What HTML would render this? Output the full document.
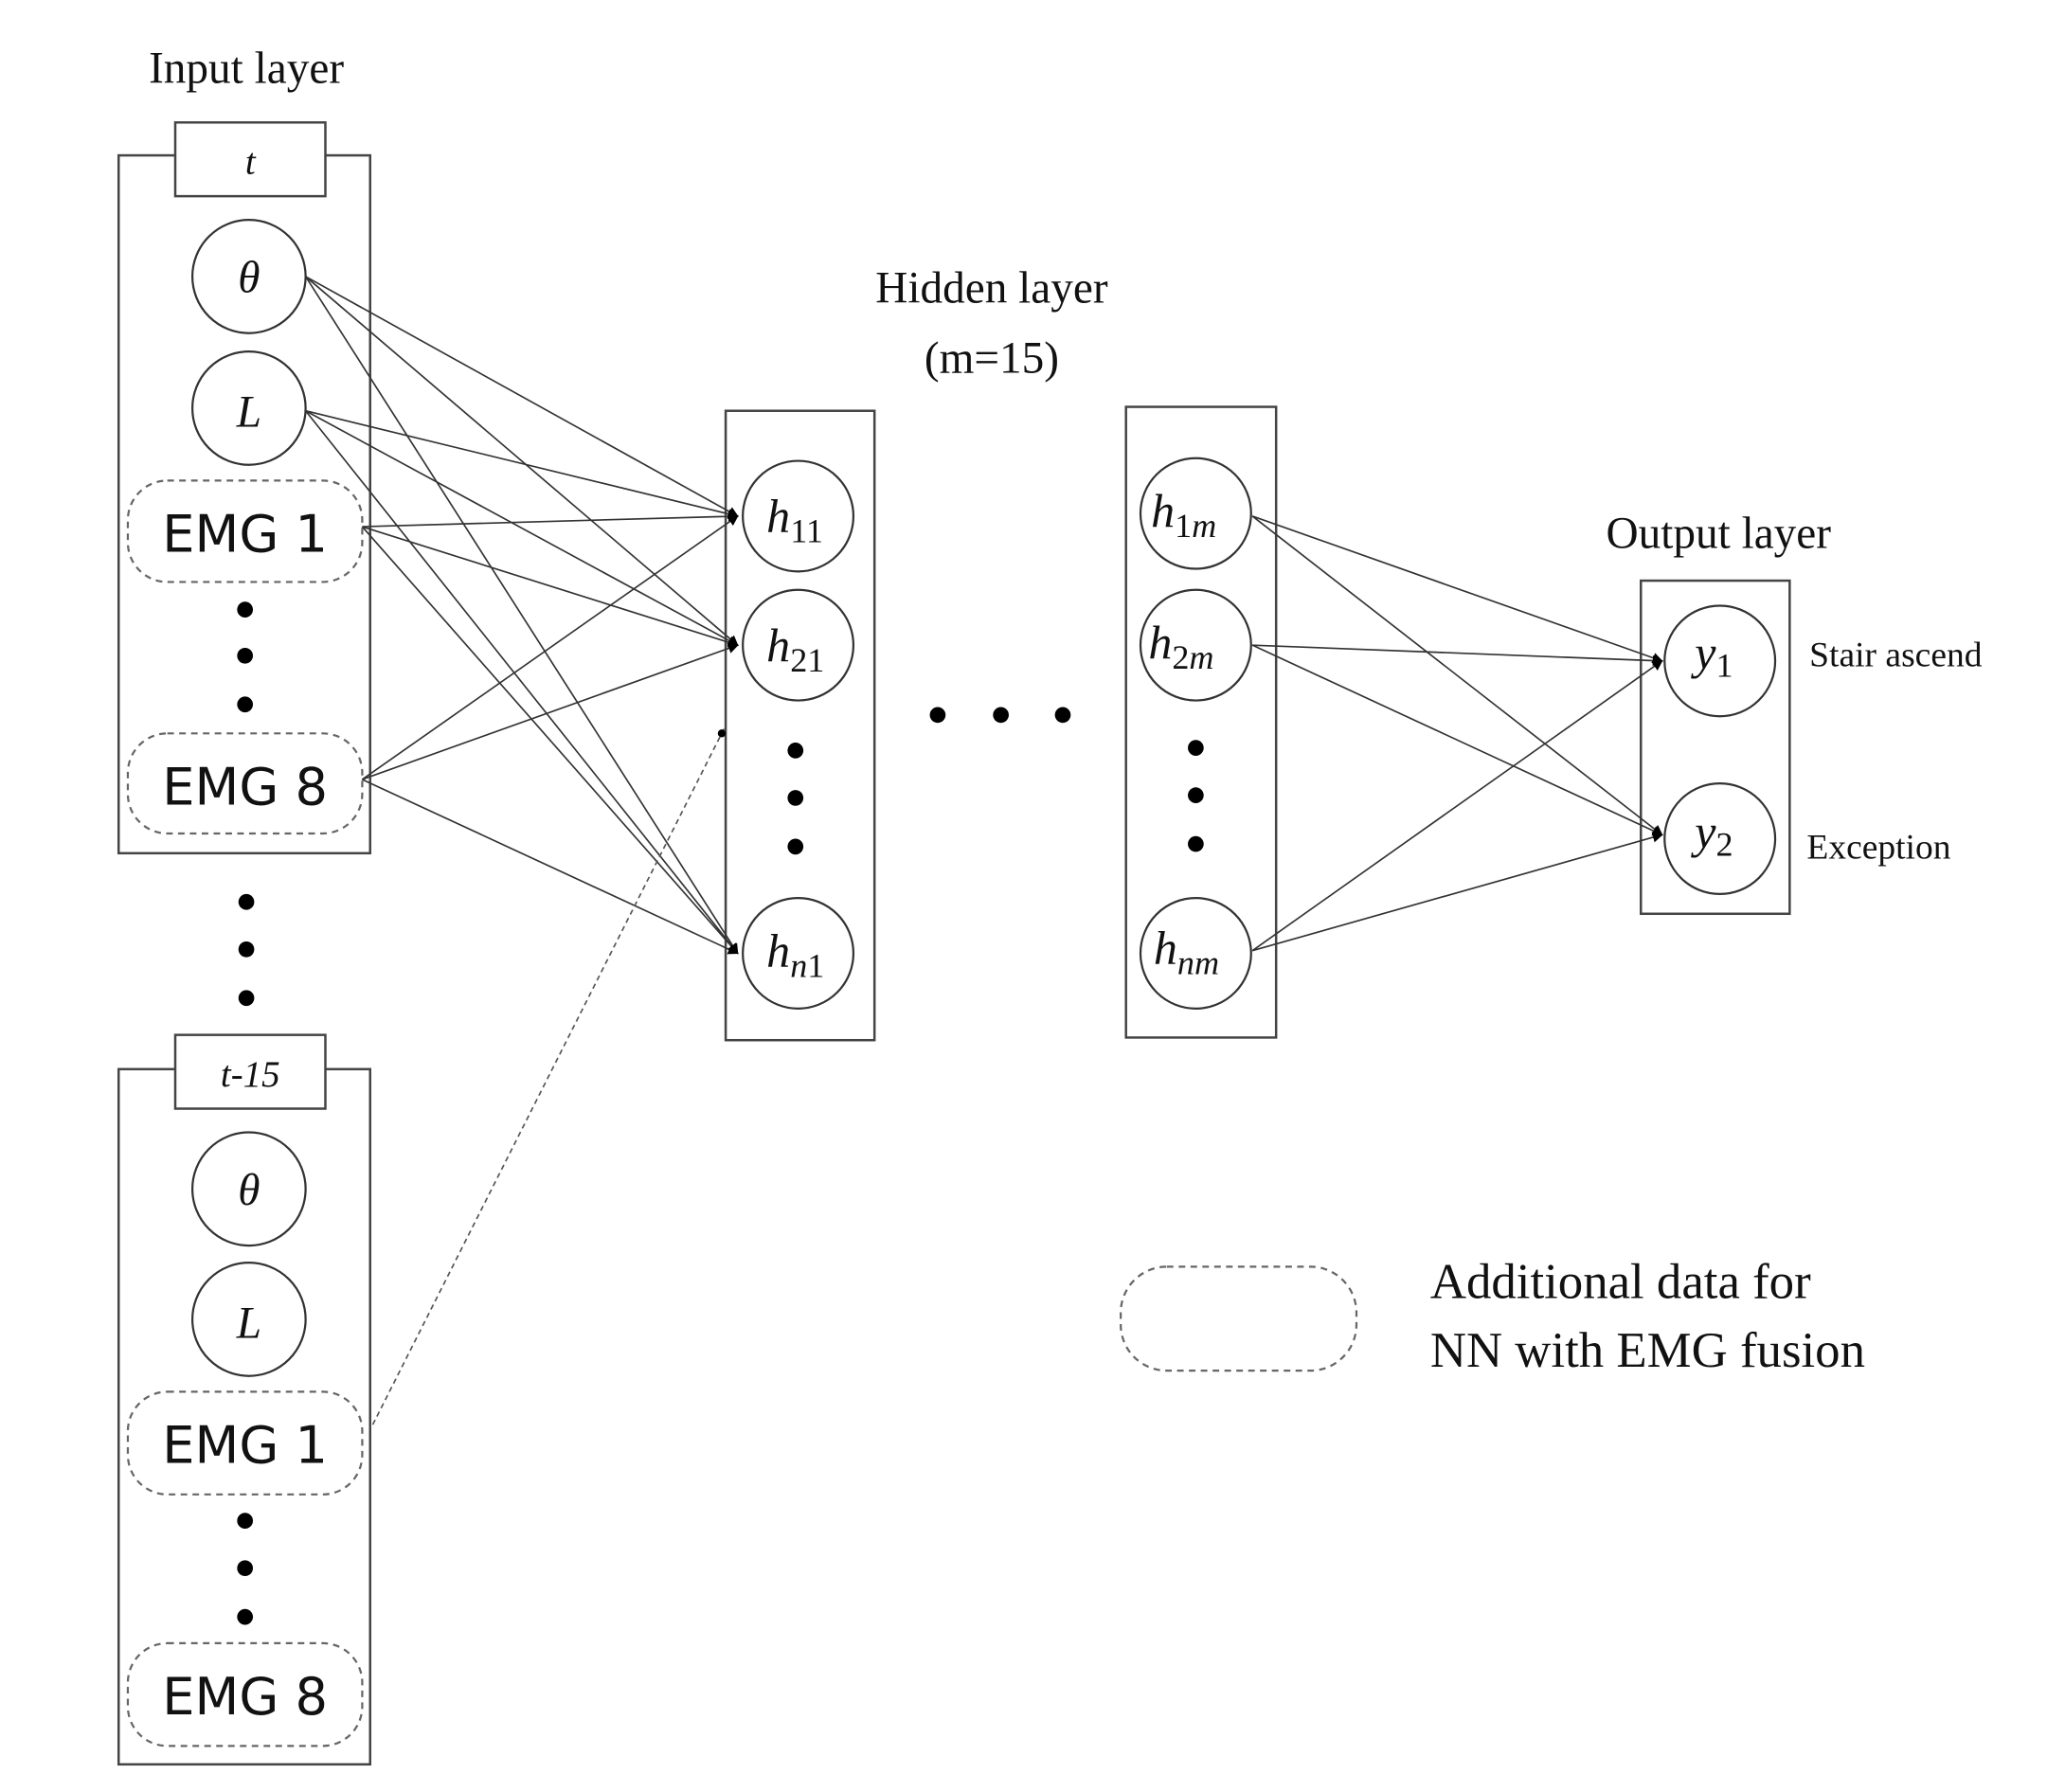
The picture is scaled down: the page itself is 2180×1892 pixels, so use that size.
<!DOCTYPE html>
<html><head><meta charset="utf-8"><style>
html,body{margin:0;padding:0;background:#fff;width:2180px;height:1892px;overflow:hidden}
svg{display:block}
.s{font-family:"Liberation Serif",serif;fill:#111}
.sa{font-family:"DejaVu Sans","Liberation Sans",sans-serif;fill:#111}
.m{font-family:"Liberation Serif",serif;font-style:italic;fill:#111}
</style></head><body>
<svg width="2180" height="1892" viewBox="0 0 1568 1361" xmlns="http://www.w3.org/2000/svg">
<defs><marker id="a" markerWidth="8" markerHeight="8" refX="7" refY="4" orient="auto" markerUnits="userSpaceOnUse"><path d="M0,0 L8,4 L0,8 Z" fill="#000"/></marker></defs>
<g stroke="#444" stroke-width="1.8" fill="none">
<rect x="90" y="118" width="191" height="530"/>
<rect x="90" y="812" width="191" height="528"/>
<rect x="551" y="312" width="113" height="478"/>
<rect x="855" y="309" width="114" height="479"/>
<rect x="1246" y="441" width="113" height="253"/>
</g>
<g stroke="#444" stroke-width="1.8" fill="#fff">
<rect x="133" y="93" width="114" height="56"/>
<rect x="133" y="786" width="114" height="56"/>
</g>
<g stroke="#666" stroke-width="1.6" fill="none" stroke-dasharray="5,4">
<rect x="97" y="365" width="178" height="77" rx="30"/>
<rect x="97" y="557" width="178" height="76" rx="30"/>
<rect x="97" y="1057" width="178" height="78" rx="30"/>
<rect x="97" y="1248" width="178" height="78" rx="30"/>
<rect x="851" y="962" width="179" height="79" rx="35"/>
</g>
<g stroke="#333" stroke-width="1.2" marker-end="url(#a)">
<line x1="232" y1="210" x2="560" y2="392"/><line x1="232" y1="210" x2="560" y2="490"/><line x1="232" y1="210" x2="560" y2="724"/>
<line x1="232" y1="312" x2="560" y2="392"/><line x1="232" y1="312" x2="560" y2="490"/><line x1="232" y1="312" x2="560" y2="724"/>
<line x1="275" y1="400" x2="560" y2="392"/><line x1="275" y1="400" x2="560" y2="490"/><line x1="275" y1="400" x2="560" y2="724"/>
<line x1="275" y1="592" x2="560" y2="392"/><line x1="275" y1="592" x2="560" y2="490"/><line x1="275" y1="592" x2="560" y2="724"/>
<line x1="951" y1="392" x2="1262" y2="502"/><line x1="951" y1="392" x2="1262" y2="634"/>
<line x1="951" y1="490" x2="1262" y2="502"/><line x1="951" y1="490" x2="1262" y2="634"/>
<line x1="951" y1="722" x2="1262" y2="502"/><line x1="951" y1="722" x2="1262" y2="634"/>
</g>
<line x1="283" y1="1082" x2="550" y2="553" stroke="#555" stroke-width="1.2" stroke-dasharray="4,3"/>
<circle cx="548" cy="557" r="3" fill="#000"/>
<g stroke="#333" stroke-width="1.6" fill="#fff">
<circle cx="189" cy="210" r="43"/><circle cx="189" cy="310" r="43"/>
<circle cx="189" cy="903" r="43"/><circle cx="189" cy="1002" r="43"/>
<circle cx="606" cy="392" r="42"/><circle cx="606" cy="490" r="42"/><circle cx="606" cy="724" r="42"/>
<circle cx="908" cy="390" r="42"/><circle cx="908" cy="490" r="42"/><circle cx="908" cy="724" r="42"/>
<circle cx="1306" cy="502" r="42"/><circle cx="1306" cy="637" r="42"/>
</g>
<g fill="#000">
<circle cx="186" cy="463" r="6"/><circle cx="186" cy="498" r="6"/><circle cx="186" cy="535" r="6"/>
<circle cx="187" cy="685" r="6"/><circle cx="187" cy="721" r="6"/><circle cx="187" cy="758" r="6"/>
<circle cx="186" cy="1155" r="6"/><circle cx="186" cy="1191" r="6"/><circle cx="186" cy="1228" r="6"/>
<circle cx="604" cy="570" r="6"/><circle cx="604" cy="606" r="6"/><circle cx="604" cy="643" r="6"/>
<circle cx="908" cy="568" r="6"/><circle cx="908" cy="604" r="6"/><circle cx="908" cy="641" r="6"/>
<circle cx="712" cy="543" r="6"/><circle cx="760" cy="543" r="6"/><circle cx="807" cy="543" r="6"/>
</g>
<text class="s" x="187" y="63" font-size="34" text-anchor="middle">Input layer</text>
<text class="m" x="190" y="132" font-size="28" text-anchor="middle">t</text>
<text class="m" x="190" y="825" font-size="28" text-anchor="middle">t-15</text>
<g class="m" font-size="34" text-anchor="middle">
<text x="189" y="222">θ</text><text x="189" y="324">L</text>
<text x="189" y="915">θ</text><text x="189" y="1016">L</text>
</g>
<g class="sa" font-size="39" text-anchor="middle">
<text x="186" y="419">EMG 1</text><text x="186" y="611">EMG 8</text>
<text x="186" y="1111">EMG 1</text><text x="186" y="1302">EMG 8</text>
</g>
<text class="s" x="753" y="230" font-size="34" text-anchor="middle">Hidden layer</text>
<text class="s" x="753" y="283" font-size="34" text-anchor="middle">(m=15)</text>
<text class="s" x="1305" y="416" font-size="34" text-anchor="middle">Output layer</text>
<g class="m" font-size="36">
<text x="582" y="404">h<tspan font-style="normal" font-size="26" dy="8">11</tspan></text>
<text x="582" y="502">h<tspan font-style="normal" font-size="26" dy="8">21</tspan></text>
<text x="582" y="734">h<tspan font-size="26" dy="8">n</tspan><tspan font-style="normal" font-size="26">1</tspan></text>
<text x="874" y="400">h<tspan font-style="normal" font-size="26" dy="8">1</tspan><tspan font-size="26">m</tspan></text>
<text x="872" y="500">h<tspan font-style="normal" font-size="26" dy="8">2</tspan><tspan font-size="26">m</tspan></text>
<text x="876" y="732">h<tspan font-size="26" dy="8">nm</tspan></text>
<text x="1287" y="508">y<tspan font-style="normal" font-size="26" dy="6">1</tspan></text>
<text x="1287" y="644">y<tspan font-style="normal" font-size="26" dy="6">2</tspan></text>
</g>
<text class="s" x="1374" y="506" font-size="27">Stair ascend</text>
<text class="s" x="1372" y="652" font-size="27">Exception</text>
<text class="s" x="1086" y="986" font-size="38">Additional data for</text>
<text class="s" x="1086" y="1038" font-size="38">NN with EMG fusion</text>
</svg>
</body></html>
